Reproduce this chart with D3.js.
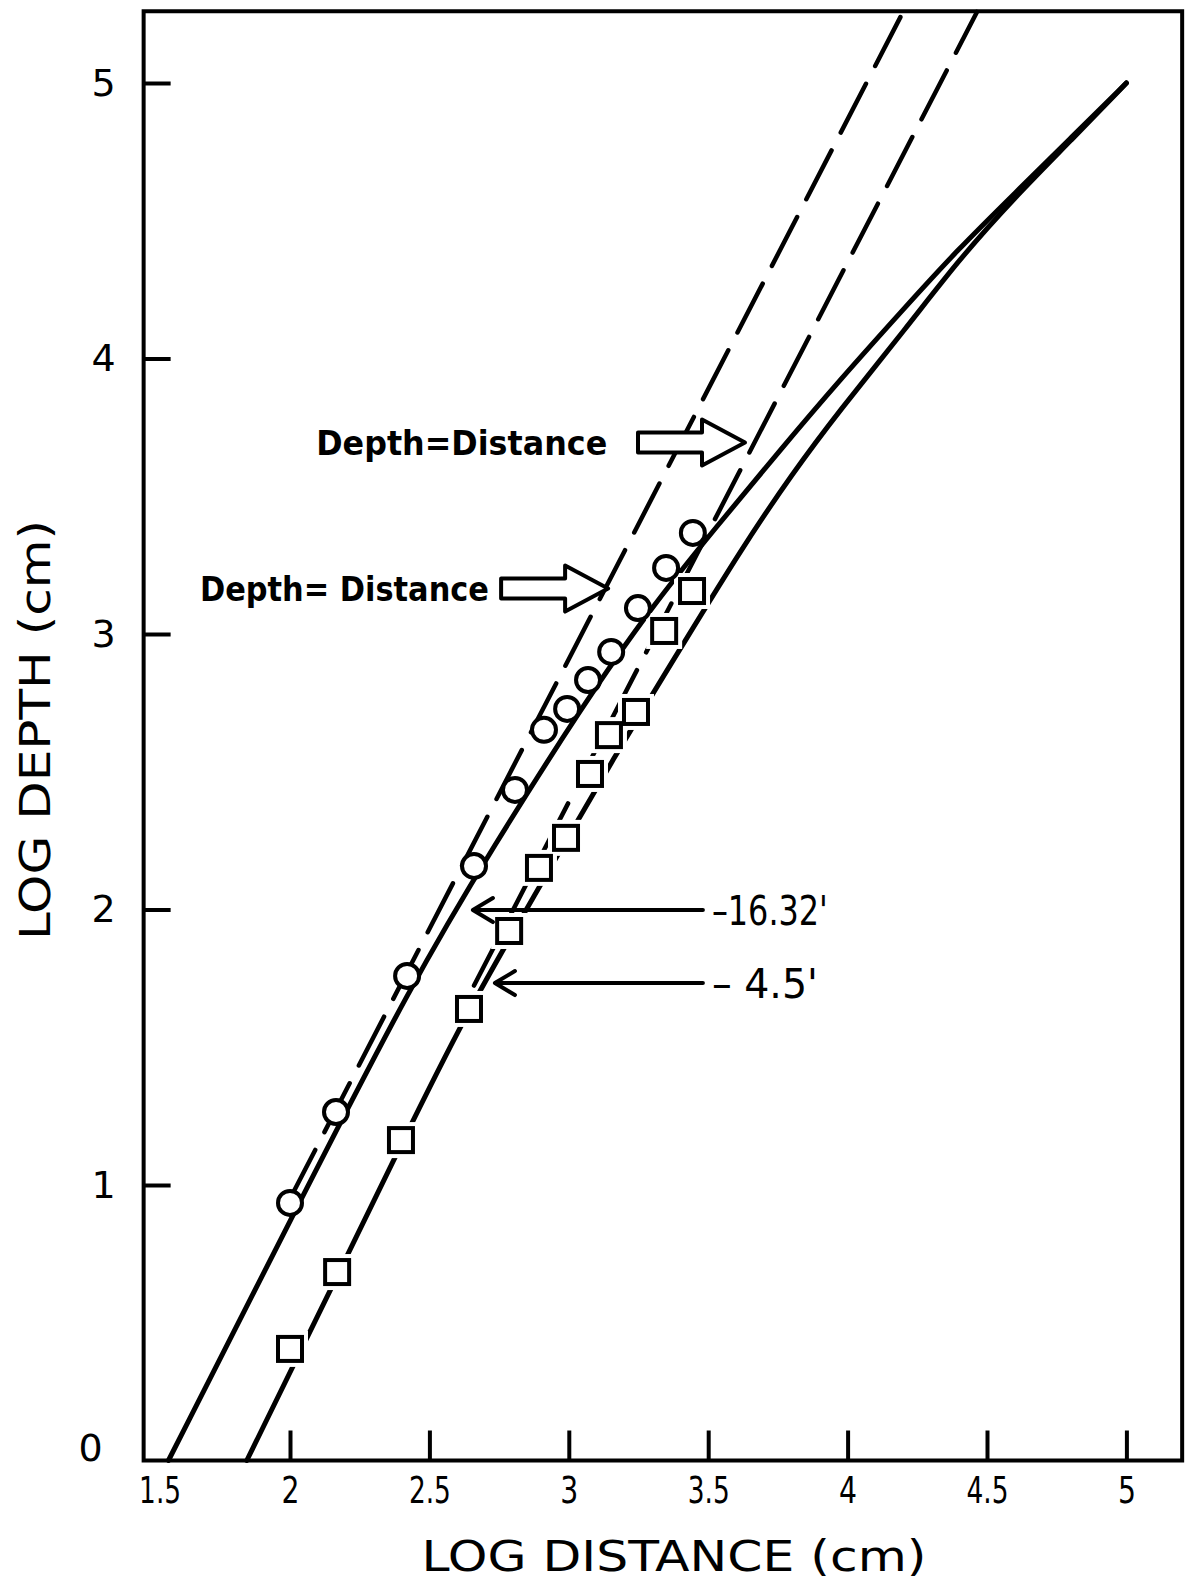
<!DOCTYPE html>
<html>
<head>
<meta charset="utf-8">
<title>Log depth vs log distance</title>
<script src="https://d3js.org/d3.v7.min.js"></script>
<style>
  body { margin: 0; background: #fff; }
  svg { display: block; }
  text { font-family: "DejaVu Sans", sans-serif; fill: #000; }
</style>
</head>
<body>
<div id="chart"></div>
<script>
// measured points (log distance, log depth), circles = 16.32', squares = 4.5'
const circleDist  = [2.0, 2.165, 2.42, 2.66, 2.807, 2.911, 2.994, 3.069, 3.152, 3.248, 3.349, 3.445];
const circleDepth = [0.935, 1.265, 1.759, 2.158, 2.434, 2.652, 2.728, 2.833, 2.935, 3.094, 3.24, 3.367];
const squareDist  = [2.0, 2.169, 2.398, 2.642, 2.786, 2.893, 2.99, 3.076, 3.144, 3.241, 3.342, 3.442];
const squareDepth = [0.405, 0.684, 1.163, 1.639, 1.922, 2.151, 2.26, 2.492, 2.633, 2.717, 3.011, 3.156];

// computed curves
const curve16Dist  = [1.564, 2.0, 2.44, 2.73, 3.05, 3.29, 3.53, 3.76, 3.97, 4.21, 4.39, 4.6, 4.8, 5.0];
const curve16Depth = [0, 0.87, 1.74, 2.23, 2.74, 3.09, 3.39, 3.67, 3.92, 4.19, 4.39, 4.6, 4.8, 5.0];
const curve45Dist  = [1.845, 2.17, 2.4, 2.64, 2.9, 3.16, 3.42, 3.62, 3.8, 3.97, 4.21, 4.4, 4.6, 4.8, 5.0];
const curve45Depth = [0, 0.67, 1.15, 1.64, 2.09, 2.55, 2.98, 3.31, 3.58, 3.81, 4.11, 4.36, 4.585, 4.79, 5.0];

// depth = distance lines (dashed)
const equal1Dist  = [2.0, 4.199];
const equal1Depth = [0.95, 5.258];
const equal2Dist  = [2.66, 4.464];
const equal2Depth = [1.724, 5.258];

const xTicks = [1.5, 2, 2.5, 3, 3.5, 4, 4.5, 5];
const yTicks = [0, 1, 2, 3, 4, 5];

const width = 1195, height = 1582;
const x = d3.scaleLinear().domain([1.5, 5]).range([150.6, 1126.4]);
const y = d3.scaleLinear().domain([0, 5]).range([1460.5, 83]);
const xLeft = 1.475, xEdge = 5.2, yEdge = 5.26;

const svg = d3.select("#chart").append("svg")
  .attr("width", width)
  .attr("height", height);

// frame
const frame = d3.path();
frame.moveTo(x(xLeft), y(0));
frame.lineTo(x(xLeft), y(yEdge));
frame.lineTo(x(xEdge), y(yEdge));
frame.lineTo(x(xEdge), y(0));
frame.closePath();
svg.append("path").attr("d", frame.toString())
  .attr("fill", "none").attr("stroke", "#000").attr("stroke-width", 4);

// x axis, ticks pointing inward
const fmt = d3.format("~g");
const xAxis = svg.append("g")
  .attr("transform", "translate(0," + y(0) + ")")
  .call(d3.axisBottom(x).tickValues(xTicks).tickSize(-30).tickPadding(16).tickFormat(fmt));
xAxis.select(".domain").remove();
xAxis.selectAll("line").attr("stroke", "#000").attr("stroke-width", 4)
  .filter(d => d === 1.5).remove();
xAxis.selectAll("text")
  .attr("font-size", 38)
  .attr("textLength", d => { const s = fmt(d); return s.replace(".", "").length * 18 + (s.includes(".") ? 6 : 0); })
  .attr("lengthAdjust", "spacingAndGlyphs")
  .attr("dx", d => d === 1.5 ? 9 : 0);

// y axis
const yAxis = svg.append("g")
  .attr("transform", "translate(" + x(xLeft) + ",0)")
  .call(d3.axisLeft(y).tickValues(yTicks).tickSize(-27).tickPadding(28).tickFormat(d3.format("d")));
yAxis.select(".domain").remove();
yAxis.selectAll("line").attr("stroke", "#000").attr("stroke-width", 4)
  .filter(d => d === 0).remove();
yAxis.selectAll("text")
  .attr("font-size", 38)
  .attr("dx", d => d === 0 ? -13 : 0)
  .attr("dy", d => d === 0 ? "0.0em" : "0.32em");

// axis titles
svg.append("text")
  .attr("x", 674).attr("y", 1571)
  .attr("text-anchor", "middle")
  .attr("font-size", 43)
  .attr("textLength", 505).attr("lengthAdjust", "spacingAndGlyphs")
  .text("LOG DISTANCE (cm)");
svg.append("text")
  .attr("transform", "translate(50,730) rotate(-90)")
  .attr("text-anchor", "middle")
  .attr("font-size", 43)
  .attr("textLength", 420).attr("lengthAdjust", "spacingAndGlyphs")
  .text("LOG DEPTH (cm)");

const line = d3.line().x(d => x(d[0])).y(d => y(d[1]));
const smooth = d3.line().x(d => x(d[0])).y(d => y(d[1])).curve(d3.curveBasis);

// dashed depth = distance lines
[[equal1Dist, equal1Depth], [equal2Dist, equal2Depth]].forEach(([xs, ys]) => {
  svg.append("path")
    .attr("d", line(d3.zip(xs, ys)))
    .attr("fill", "none").attr("stroke", "#000").attr("stroke-width", 4.5)
    .attr("stroke-dasharray", "55,20").attr("stroke-linecap", "round");
});

// solid curves
[[curve16Dist, curve16Depth], [curve45Dist, curve45Depth]].forEach(([xs, ys]) => {
  svg.append("path")
    .attr("d", smooth(d3.zip(xs, ys)))
    .attr("fill", "none").attr("stroke", "#000").attr("stroke-width", 5)
    .attr("stroke-linecap", "round");
});

// markers
const sq = 24;
svg.append("g").selectAll("rect")
  .data(d3.zip(squareDist, squareDepth))
  .join("rect")
  .attr("x", d => x(d[0]) - sq / 2).attr("y", d => y(d[1]) - sq / 2)
  .attr("width", sq).attr("height", sq)
  .attr("fill", "#fff").attr("stroke", "#fff").attr("stroke-width", 12);
svg.append("g").selectAll("rect")
  .data(d3.zip(squareDist, squareDepth))
  .join("rect")
  .attr("x", d => x(d[0]) - sq / 2).attr("y", d => y(d[1]) - sq / 2)
  .attr("width", sq).attr("height", sq)
  .attr("fill", "#fff").attr("stroke", "#000").attr("stroke-width", 4);
svg.append("g").selectAll("circle")
  .data(d3.zip(circleDist, circleDepth))
  .join("circle")
  .attr("cx", d => x(d[0])).attr("cy", d => y(d[1]))
  .attr("r", 12)
  .attr("fill", "#fff").attr("stroke", "#000").attr("stroke-width", 4);

// block arrows with "Depth = Distance" labels
const notes = [
  { label: "Depth=Distance",  textX: 2.094, tipX: 3.632, at: 3.695, len: 291 },
  { label: "Depth= Distance", textX: 1.677, tipX: 3.141, at: 3.165, len: 289 }
];
const arrowShape = [[-107, -10], [-43, -10], [-43, -23], [0, 0], [-43, 23], [-43, 10], [-107, 10]];
notes.forEach(n => {
  const tx = x(n.tipX), ty = y(n.at);
  svg.append("path")
    .attr("d", "M" + arrowShape.map(p => (tx + p[0]) + "," + (ty + p[1])).join("L") + "Z")
    .attr("fill", "#fff").attr("stroke", "#000").attr("stroke-width", 4)
    .attr("stroke-linejoin", "round");
  svg.append("text")
    .attr("x", x(n.textX)).attr("y", ty + 12)
    .attr("font-size", 34).attr("font-weight", "bold")
    .attr("textLength", n.len).attr("lengthAdjust", "spacingAndGlyphs")
    .text(n.label);
});

// thin arrows pointing at the two curves
const pointers = [
  { label: "\u201316.32'", tipX: 2.656, endX: 3.481, at: 1.998, len: 116 },
  { label: "\u2013 4.5'",  tipX: 2.735, endX: 3.481, at: 1.733, len: 106 }
];
pointers.forEach(p => {
  const x0 = x(p.tipX), x1 = x(p.endX), yy = y(p.at);
  svg.append("path")
    .attr("d", "M" + x1 + "," + yy + "L" + x0 + "," + yy +
               "M" + (x0 + 20) + "," + (yy - 12) + "L" + x0 + "," + yy + "L" + (x0 + 20) + "," + (yy + 12))
    .attr("fill", "none").attr("stroke", "#000").attr("stroke-width", 4)
    .attr("stroke-linecap", "round").attr("stroke-linejoin", "round");
  svg.append("text")
    .attr("x", x1 + 9).attr("y", yy + 15)
    .attr("font-size", 40)
    .attr("textLength", p.len).attr("lengthAdjust", "spacingAndGlyphs")
    .text(p.label);
});
</script>
</body>
</html>
